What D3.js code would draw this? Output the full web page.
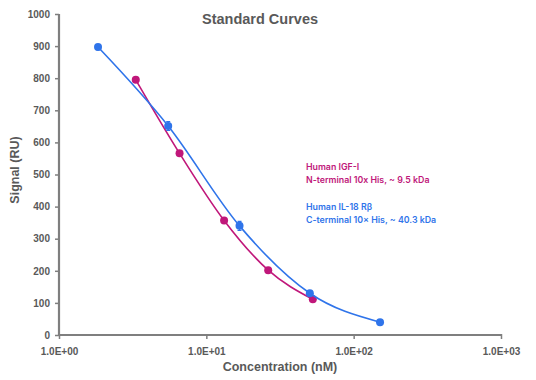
<!DOCTYPE html>
<html>
<head>
<meta charset="utf-8">
<script src="https://cdn.jsdelivr.net/npm/d3@7"></script>
<style>
  body { margin: 0; background: #fff; }
  svg text { font-family: "Liberation Sans", Arial, sans-serif; }
  .tick text { font-weight: bold; fill: #595959; font-size: 10px; }
</style>
</head>
<body>
<div id="chart"></div>
<script>
// concentrations (nM) and signals (RU)
var igfConc = [3.32, 6.58, 13.2, 26.3, 52.8];
var igfSignal = [795, 566, 357, 202, 111];
var igfErr = [6, 6, 8, 5, 5];

var il18Conc = [1.84, 5.51, 16.8, 50.4, 151];
var il18Signal = [897, 651, 340, 130, 40];
var il18Err = [8, 14, 14, 6, 4];

var xTicks = [1, 10, 100, 1000];
var yTicks = [0, 100, 200, 300, 400, 500, 600, 700, 800, 900, 1000];

var margin = { top: 14, right: 35, bottom: 45, left: 59 },
    width = 536 - margin.left - margin.right,
    height = 380 - margin.top - margin.bottom;

var svg = d3.select("#chart")
    .append("svg")
    .attr("width", 536)
    .attr("height", 380);

var plot = svg.append("g")
    .attr("transform", "translate(" + margin.left + "," + margin.top + ")");

var x = d3.scaleLog().domain([1, 1000]).range([0, 442]);
var y = d3.scaleLinear().domain([0, 1000]).range([height, 0]);

var yAxis = plot.append("g")
    .call(d3.axisLeft(y).tickValues(yTicks).tickSize(4).tickPadding(5).tickFormat(d3.format("d")));
var xAxis = plot.append("g")
    .attr("transform", "translate(0," + height + ")")
    .call(d3.axisBottom(x).tickValues(xTicks).tickSize(4).tickPadding(9)
        .tickFormat(function(d) { return "1.0E+0" + Math.round(Math.log10(d)); }));

[xAxis, yAxis].forEach(function(a) {
    a.select(".domain").attr("stroke", "#7f7f7f").attr("stroke-width", 2.2);
    a.selectAll(".tick line").attr("stroke", "#7f7f7f").attr("stroke-width", 1.5);
});
xAxis.select(".domain").attr("d", "M0,0H442");
xAxis.selectAll(".tick line").attr("y1", -1);
yAxis.select(".domain").attr("d", "M0," + height + "V0");

function series(conc, sig, err, color) {
    var pts = conc.map(function(c, i) { return { c: c, s: sig[i], e: err[i] }; });
    var line = d3.line()
        .x(function(d) { return x(d.c); })
        .y(function(d) { return y(d.s); })
        .curve(d3.curveMonotoneX);
    plot.append("path")
        .datum(pts)
        .attr("fill", "none")
        .attr("stroke", color)
        .attr("stroke-width", 1.6)
        .attr("d", line);
    plot.selectAll(null)
        .data(pts)
        .enter()
        .append("path")
        .attr("stroke", color)
        .attr("stroke-width", 1.2)
        .attr("d", function(d) {
            var cx = x(d.c), y1 = y(d.s + d.e), y2 = y(d.s - d.e);
            return "M" + cx + "," + y1 + "V" + y2 + "M" + (cx - 2) + "," + y1 + "H" + (cx + 2) + "M" + (cx - 2) + "," + y2 + "H" + (cx + 2);
        });
    plot.selectAll(null)
        .data(pts)
        .enter()
        .append("circle")
        .attr("cx", function(d) { return x(d.c); })
        .attr("cy", function(d) { return y(d.s); })
        .attr("r", 4)
        .attr("fill", color);
}

series(igfConc, igfSignal, igfErr, "#c0177a");
series(il18Conc, il18Signal, il18Err, "#2f74ea");

svg.append("text")
    .attr("x", 260)
    .attr("y", 24)
    .attr("text-anchor", "middle")
    .attr("font-size", 14.5)
    .attr("font-weight", "bold")
    .attr("fill", "#595959")
    .text("Standard Curves");

svg.append("text")
    .attr("transform", "translate(19,170) rotate(-90)")
    .attr("text-anchor", "middle")
    .attr("font-size", 12.5)
    .attr("font-weight", "bold")
    .attr("fill", "#595959")
    .text("Signal (RU)");

svg.append("text")
    .attr("x", 280)
    .attr("y", 371)
    .attr("text-anchor", "middle")
    .attr("font-size", 12.5)
    .attr("font-weight", "bold")
    .attr("fill", "#595959")
    .text("Concentration (nM)");

var notes = [
    { lines: ["Human IGF-I", "N-terminal 10x His, ~ 9.5 kDa"], y: 170, color: "#c0177a" },
    { lines: ["Human IL-18 R\u03b2", "C-terminal 10\u00d7 His, ~ 40.3 kDa"], y: 210, color: "#2f74ea" }
];
notes.forEach(function(n) {
    n.lines.forEach(function(t, i) {
        svg.append("text")
            .attr("x", 306)
            .attr("y", n.y + i * 12.8)
            .attr("font-size", 8.8)
            .attr("font-weight", 600)
            .attr("fill", n.color)
            .style("font-family", "Inter, sans-serif")
            .text(t);
    });
});
</script>
</body>
</html>
